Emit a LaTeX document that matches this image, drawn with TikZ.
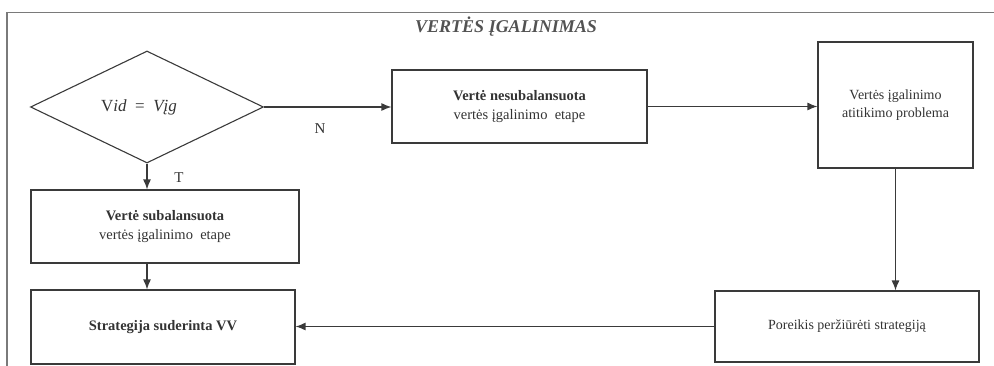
\documentclass[tikz,border=0pt]{standalone}
\usepackage{fontspec}
\setmainfont{Liberation Serif}
\usetikzlibrary{shapes.geometric,arrows.meta}
\definecolor{framegray}{HTML}{7A7A7A}
\definecolor{linegray}{HTML}{3A3A3A}
\definecolor{textgray}{HTML}{333333}
\tikzset{
  box/.style={draw=linegray, line width=1.15pt, rectangle, inner sep=2pt, align=center,
    text=textgray, font=\fontsize{14.5}{19}\selectfont},
  decision/.style={draw=linegray, line width=1.1pt, diamond, inner sep=0pt, text=textgray,
    font=\fontsize{17}{19}\selectfont},
  flow/.style={draw=linegray, line width=1.2pt, -{Latex[length=10pt,width=8pt]}},
  lbl/.style={text=textgray, font=\fontsize{15}{17}\selectfont, inner sep=0pt}
}
\begin{document}
\begin{tikzpicture}[x=1pt,y=-1pt]
  \useasboundingbox (0,0) rectangle (994,366);
  % open frame around the diagram
  \draw[framegray, line width=1.4pt] (7,366) -- (7,12.5) -- (994,12.5);
  \node[text=textgray!85, font=\fontsize{18}{20}\selectfont\bfseries\itshape] (title) at (506,27) {VERTĖS ĮGALINIMAS};

  % decision and process boxes
  \node[decision, minimum width=233pt, minimum height=112pt] (dec) at (147,107) {\hspace*{-16pt}V\textit{id} \ = \ \textit{Vįg}};
  \node[box, minimum width=268pt, minimum height=73pt] (bal) at (165,226.5)
    {\textbf{Vertė subalansuota}\\vertės įgalinimo\ \ etape};
  \node[box, minimum width=264pt, minimum height=74pt] (str) at (163,327)
    {\textbf{Strategija suderinta VV}};
  \node[box, minimum width=255pt, minimum height=73pt] (nes) at (519.5,106.5)
    {\textbf{Vertė nesubalansuota}\\vertės įgalinimo\ \ etape};
  \node[box, minimum width=155pt, minimum height=126pt, font=\fontsize{14}{18}\selectfont] (prob) at (895.5,105)
    {Vertės įgalinimo\\atitikimo problema};
  \node[box, minimum width=264pt, minimum height=71pt, font=\fontsize{14}{18}\selectfont] (por) at (847,326.5)
    {Poreikis peržiūrėti strategiją};

  % connectors
  \draw[flow] (dec.east) -- (dec.east -| nes.west);
  \draw[flow] (dec.south) -- (dec.south |- bal.north);
  \draw[flow] (bal.south -| dec.south) -- (str.north -| dec.south);
  \draw[flow] (nes.east) -- (nes.east -| prob.west);
  \draw[flow] (prob.south) -- (prob.south |- por.north);
  \draw[flow] (por.west) -- (por.west -| str.east);

  % branch labels
  \node[lbl] (n) at (320,129) {N};
  \node[lbl] (t) at (179,178) {T};
\end{tikzpicture}
\end{document}
